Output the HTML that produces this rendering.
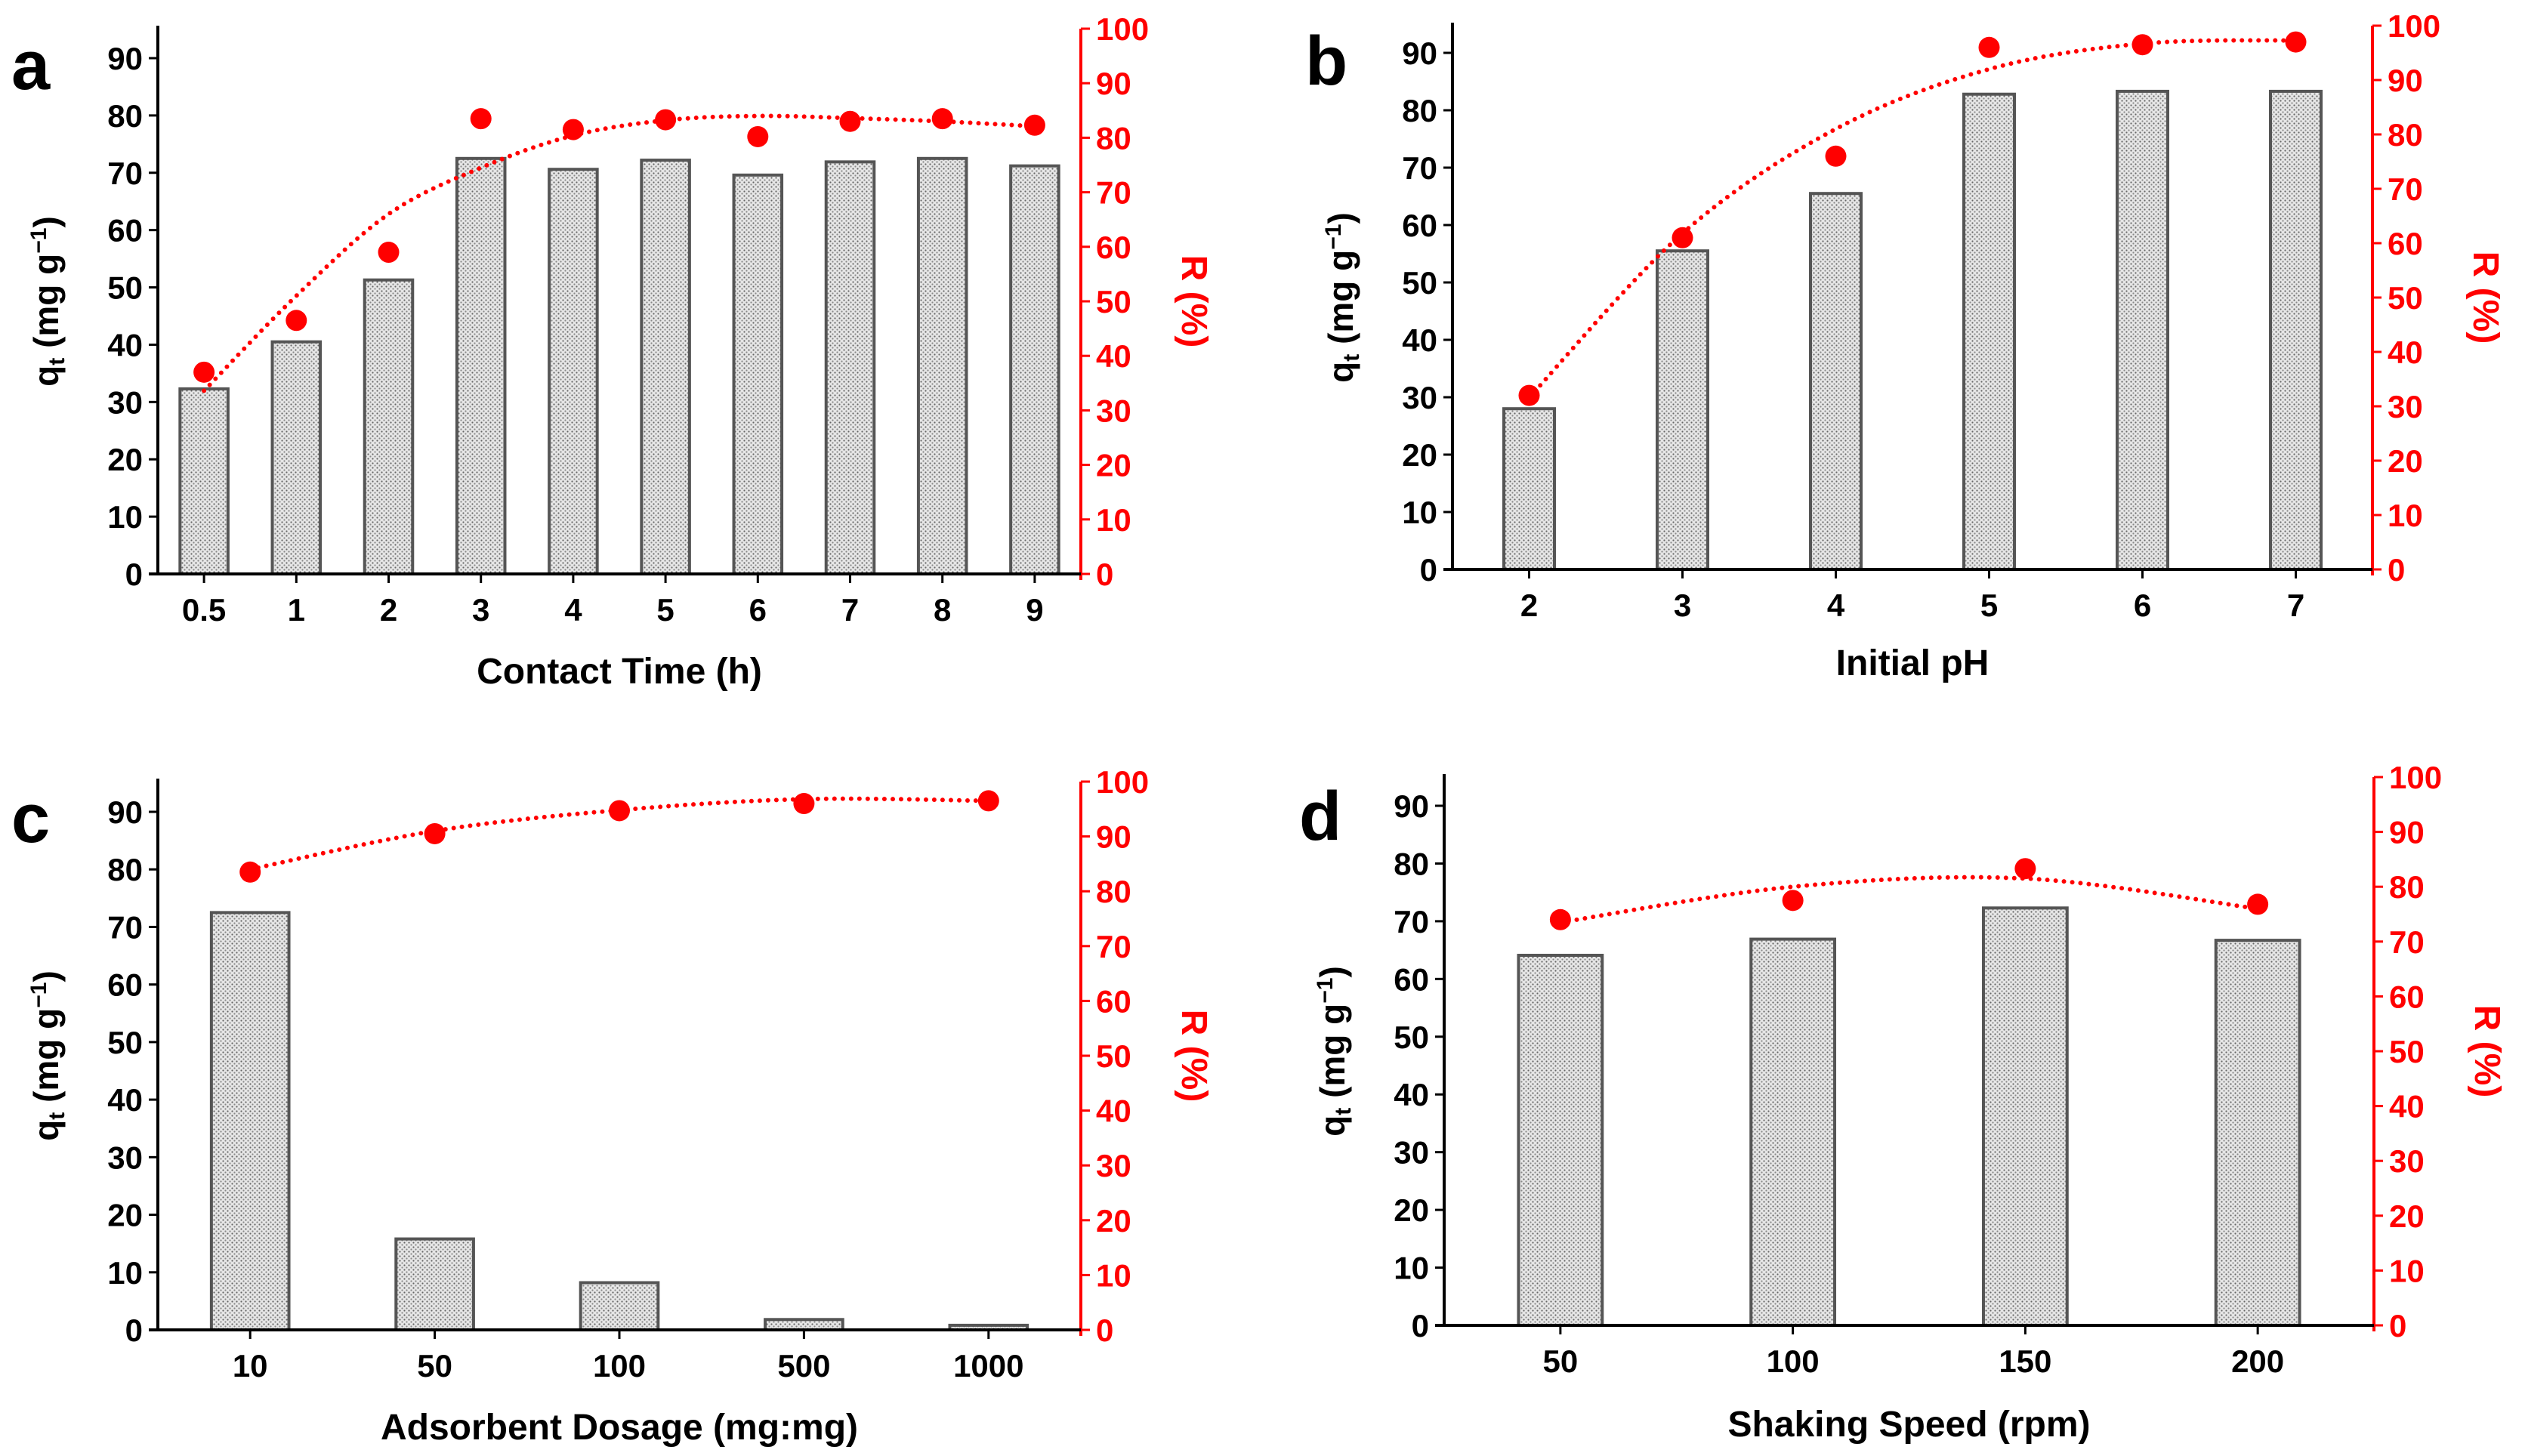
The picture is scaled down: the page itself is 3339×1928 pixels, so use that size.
<!DOCTYPE html>
<html><head><meta charset="utf-8"><style>
html,body{margin:0;padding:0;background:#fff}
svg{display:block;font-family:"Liberation Sans",Arial,sans-serif}
</style></head><body>
<svg id="fig" width="3339" height="1928" viewBox="0 0 3339 1928" xmlns="http://www.w3.org/2000/svg">
<defs>
<pattern id="dots" width="6" height="6" patternUnits="userSpaceOnUse">
<rect width="6" height="6" fill="#e6e6e6"/><circle cx="1.5" cy="1.5" r="1.1" fill="#666"/><circle cx="4.5" cy="4.5" r="1.1" fill="#888"/>
</pattern>
</defs>
</svg>
<script>
// Panel a
const catsA = ["0.5","1","2","3","4","5","6","7","8","9"];
const qtA = [32.3,40.5,51.3,72.5,70.6,72.2,69.6,71.9,72.5,71.2];
const rA = [37,46.5,59,83.5,81.5,83.3,80.2,83,83.5,82.3];
const trendA = [33.6,51,66,74.5,80.4,83.2,84,83.6,83,82.1];
// Panel b
const catsB = ["2","3","4","5","6","7"];
const qtB = [28,55.5,65.5,82.8,83.3,83.3];
const rB = [32,61,76,96,96.5,97];
const trendB = [31.6,61.8,81,92,96.7,97.3];
// Panel c
const catsC = ["10","50","100","500","1000"];
const qtC = [72.5,15.8,8.2,1.8,0.8];
const rC = [83.5,90.5,94.7,96,96.5];
const trendC = [84,91,94.8,96.8,96.5];
// Panel d
const catsD = ["50","100","150","200"];
const qtD = [64.1,66.9,72.3,66.7];
const rD = [74,77.5,83.3,76.8];
const trendD = [73.5,80,81.5,76];
const qTicks = [0,10,20,30,40,50,60,70,80,90];
const rTicks = [0,10,20,30,40,50,60,70,80,90,100];

const NS="http://www.w3.org/2000/svg";
const svg=document.getElementById('fig');
function mk(tag,attrs,parent){const e=document.createElementNS(NS,tag);for(const k in attrs)e.setAttribute(k,attrs[k]);(parent||svg).appendChild(e);return e;}

function panel(p){
  const g=mk('g',{});
  
  
  const n=p.cats.length, step=(p.R-p.L)/n;
  const xs=i=>p.L+step*(i+0.5);
  const yq=v=>p.y0-v*(p.y0-p.y90)/90;
  const yr=v=>p.y0-v*(p.y0-p.y100)/100;
  p.qt.forEach((v,i)=>{
    const w=step*p.bw;
    const b=mk('rect',{x:xs(i)-w/2,y:yq(v),width:w,height:p.y0-yq(v),fill:'url(#dots)',stroke:'#555','stroke-width':4},g);
    
    
  });
  const la=mk('line',{x1:p.L,y1:p.y0,x2:p.L,y2:p.y100-4,stroke:'#000','stroke-width':4},g);
  
  
  const ra=mk('line',{x1:p.R,y1:p.y0+8,x2:p.R,y2:p.y100,stroke:'#f00','stroke-width':4},g);
  
  
  const xa=mk('line',{x1:p.L-12,y1:p.y0,x2:p.R,y2:p.y0,stroke:'#000','stroke-width':4},g);
  
  
  qTicks.forEach(v=>{
    mk('line',{x1:p.L-12,y1:yq(v),x2:p.L,y2:yq(v),stroke:'#000','stroke-width':3},g);
    const t=mk('text',{x:p.L-20,y:yq(v)+15,'text-anchor':'end','font-size':42,'font-weight':'bold',fill:'#000'},g);
    t.textContent=v;
    
    
  });
  rTicks.forEach(v=>{
    mk('line',{x1:p.R,y1:yr(v),x2:p.R+12,y2:yr(v),stroke:'#f00','stroke-width':3},g);
    const t=mk('text',{x:p.R+20,y:yr(v)+15,'text-anchor':'start','font-size':42,'font-weight':'bold',fill:'#f00'},g);
    t.textContent=v;
    
    
  });
  p.cats.forEach((c,i)=>{
    mk('line',{x1:xs(i),y1:p.y0,x2:xs(i),y2:p.y0+12,stroke:'#000','stroke-width':3},g);
    const t=mk('text',{x:xs(i),y:p.y0+62,'text-anchor':'middle','font-size':42,'font-weight':'bold',fill:'#000'},g);
    t.textContent=c;
    
    
  });
  const pts=p.trend.map((v,i)=>[xs(i),yr(v)]);
  let d='M'+pts[0][0]+','+pts[0][1];
  for(let i=0;i<pts.length-1;i++){
    const p0=pts[Math.max(0,i-1)],p1=pts[i],p2=pts[i+1],p3=pts[Math.min(pts.length-1,i+2)];
    const c1=[p1[0]+(p2[0]-p0[0])/6,p1[1]+(p2[1]-p0[1])/6];
    const c2=[p2[0]-(p3[0]-p1[0])/6,p2[1]-(p3[1]-p1[1])/6];
    d+=' C'+c1+' '+c2+' '+p2;
  }
  const tl=mk('path',{d:d,fill:'none',stroke:'#f00','stroke-width':6,'stroke-dasharray':'0 11','stroke-linecap':'round'},g);
  
  
  p.r.forEach((v,i)=>{
    const c=mk('circle',{cx:xs(i),cy:yr(v),r:14,fill:'#f00'},g);
    
    
  });
  const xt=mk('text',{x:(p.L+p.R)/2,y:p.xty,'text-anchor':'middle','font-size':48,'font-weight':'bold'},g);
  xt.textContent=p.xtitle;
  
  
  const cy=(p.y0+p.y100)/2;
  const yt=mk('text',{x:0,y:0,'text-anchor':'middle','font-size':46,'font-weight':'bold',transform:`translate(${p.L-132},${cy}) rotate(-90)`},g);
  yt.innerHTML='q<tspan font-size="30" dy="8">t</tspan><tspan dy="-8"> (mg g</tspan><tspan font-size="30" dy="-16">−1</tspan><tspan dy="16">)</tspan>';
  
  
  const rt=mk('text',{x:0,y:0,'text-anchor':'middle','font-size':48,'font-weight':'bold',fill:'#f00',transform:`translate(${p.R+134},${cy}) rotate(90)`},g);
  rt.textContent='R (%)';
  
  
  const lt=mk('text',{x:p.lx,y:p.ly,'font-size':92,'font-weight':'bold'},g);
  lt.textContent=p.id;
  
  
}
panel({id:'a',cats:catsA,qt:qtA,r:rA,trend:trendA,L:209,R:1431,y0:760,y90:77,y100:38,bw:0.52,xtitle:'Contact Time (h)',xty:905,lx:15,ly:118});
panel({id:'b',cats:catsB,qt:qtB,r:rB,trend:trendB,L:1923,R:3141,y0:754,y90:70,y100:34,bw:0.33,xtitle:'Initial  pH',xty:894,lx:1728,ly:112});
panel({id:'c',cats:catsC,qt:qtC,r:rC,trend:trendC,L:209,R:1431,y0:1761,y90:1075,y100:1035,bw:0.42,xtitle:'Adsorbent Dosage (mg:mg)',xty:1906,lx:15,ly:1115});
panel({id:'d',cats:catsD,qt:qtD,r:rD,trend:trendD,L:1912,R:3143,y0:1755,y90:1067,y100:1029,bw:0.36,xtitle:'Shaking Speed (rpm)',xty:1902,lx:1720,ly:1112});
</script>
</body></html>
